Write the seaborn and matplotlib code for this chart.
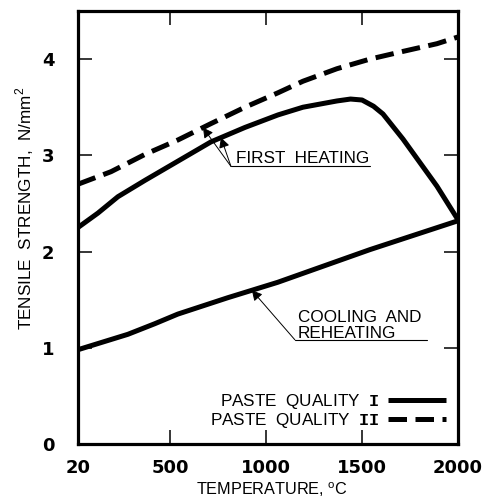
import numpy as np
import pandas as pd
import matplotlib
matplotlib.use("Agg")
import matplotlib.pyplot as plt
import seaborn as sns

# ---- data ----
temp_first_I = [20, 124, 228, 369, 541, 713, 890, 1062, 1192, 1369, 1440, 1500, 1560, 1609, 1713, 1890, 2000]
strength_first_I = [2.25, 2.40, 2.57, 2.74, 2.94, 3.14, 3.29, 3.42, 3.50, 3.565, 3.585, 3.575, 3.51, 3.43, 3.17, 2.68, 2.33]

temp_first_II = [20, 192, 369, 541, 713, 890, 1062, 1192, 1369, 1541, 1713, 1890, 2000]
strength_first_II = [2.70, 2.83, 3.01, 3.16, 3.33, 3.50, 3.65, 3.77, 3.90, 4.00, 4.08, 4.16, 4.23]

temp_cool_I = [20, 280, 420, 540, 800, 1060, 1541, 2000]
strength_cool_I = [0.98, 1.14, 1.25, 1.35, 1.52, 1.68, 2.02, 2.32]

x_ticks = [20, 500, 1000, 1500, 2000]
y_ticks = [0, 1, 2, 3, 4]
legend_labels = [r"PASTE  QUALITY  $\mathtt{I}$", r"PASTE  QUALITY  $\mathtt{II}$"]

sns.set_style("ticks")
plt.rcParams["font.family"] = ["Liberation Sans", "DejaVu Sans"]
plt.rcParams["mathtext.fontset"] = "custom"
plt.rcParams["mathtext.rm"] = "Liberation Sans"
plt.rcParams["mathtext.tt"] = "Liberation Mono:bold"
for k in ["text.color", "axes.labelcolor", "xtick.color", "ytick.color", "axes.edgecolor"]:
    plt.rcParams[k] = "black"

fig = plt.figure(figsize=(4.84, 5.03), dpi=100)
ax = fig.add_axes([78/484, 1-444/503, 380/484, 433/503])

lw = 3.6
df1 = pd.DataFrame({"T": temp_first_I, "S": strength_first_I})
df2 = pd.DataFrame({"T": temp_first_II, "S": strength_first_II})
df3 = pd.DataFrame({"T": temp_cool_I, "S": strength_cool_I})
sns.lineplot(data=df1, x="T", y="S", ax=ax, color="black", lw=lw, estimator=None, sort=False)
sns.lineplot(data=df2, x="T", y="S", ax=ax, color="black", lw=lw, estimator=None, sort=False)
sns.lineplot(data=df3, x="T", y="S", ax=ax, color="black", lw=lw, estimator=None, sort=False)
lines = ax.get_lines()
lines[1].set_dashes((3.7, 1.7))
for ln in lines:
    ln.set_solid_capstyle("butt")
    ln.set_dash_capstyle("butt")
    ln.set_solid_joinstyle("round")

ax.set_xlim(20, 2000)
ax.set_ylim(0, 4.5)
ax.set_xticks(x_ticks)
ax.set_xticklabels([str(v) for v in x_ticks])
ax.set_yticks(y_ticks)
ax.set_yticklabels([str(v) for v in y_ticks])
for s in ax.spines.values():
    s.set_visible(True)
    s.set_linewidth(2.3)
    s.set_color("black")
ax.tick_params(direction="in", length=10, width=1.1, top=True, right=True,
               labelsize=13, colors="black")
ax.tick_params(axis="x", pad=11)
ax.tick_params(axis="y", pad=17)
for lab in ax.get_xticklabels() + ax.get_yticklabels():
    lab.set_fontfamily("DejaVu Sans")
    lab.set_fontweight("bold")

ax.set_xlabel(r"TEMPERATURE, $^{\mathrm{o}}$C", fontsize=11.7)
ax.set_ylabel(r"TENSILE  STRENGTH,  N/mm$^{2}$", fontsize=12.3)
ax.xaxis.set_label_coords(0.51, -0.106)
ax.yaxis.set_label_coords(-0.139, 0.545)
ax.xaxis.label.set_va("center")
ax.yaxis.label.set_va("center")

# ---- annotations ----
ann_fs = 12.3
arrow = dict(arrowstyle="-|>,head_length=0.6,head_width=0.32", color="black", lw=0.7,
             shrinkA=0, shrinkB=0)
vx, vy = 817, 2.885
for tx, xs, ys in [(671, temp_first_II, strength_first_II), (765, temp_first_I, strength_first_I)]:
    ax.annotate("", xy=(tx, np.interp(tx, xs, ys)), xytext=(vx, vy), arrowprops=arrow)
ax.plot([vx, 1541], [vy, vy], color="black", lw=0.8)
ax.text(843, 2.925, "FIRST  HEATING", fontsize=ann_fs, ha="left", va="baseline")

cvx, cvy = 1150, 1.083
ax.annotate("", xy=(926, np.interp(926, temp_cool_I, strength_cool_I)), xytext=(cvx, cvy),
            arrowprops=arrow)
ax.plot([cvx, 1838], [cvy, cvy], color="black", lw=0.8)
ax.text(1166, 1.265, "COOLING  AND", fontsize=ann_fs, ha="left", va="baseline")
ax.text(1166, 1.10, "REHEATING", fontsize=ann_fs, ha="left", va="baseline")

leg = ax.legend([lines[0], lines[1]], legend_labels, markerfirst=False, frameon=False,
                loc="lower right", bbox_to_anchor=(0.977, 0.025), fontsize=ann_fs,
                handlelength=3.4, handletextpad=0.5, labelspacing=0.0, borderaxespad=0,
                borderpad=0.2)

fig.savefig("out.png", dpi=100)
